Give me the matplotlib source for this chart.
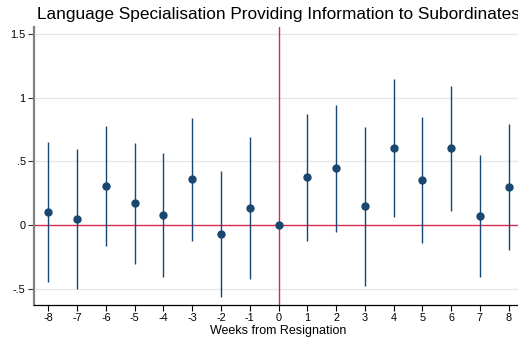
import matplotlib

matplotlib.use("Agg")
import matplotlib.pyplot as plt

# Event-study coefficients with 95% CIs, by week relative to resignation
weeks = [-8, -7, -6, -5, -4, -3, -2, -1, 0, 1, 2, 3, 4, 5, 6, 7, 8]
coef = [0.104, 0.052, 0.309, 0.173, 0.083, 0.361, -0.066, 0.136, 0.0,
        0.377, 0.449, 0.149, 0.609, 0.356, 0.604, 0.073, 0.298]
ci_lo = [-0.443, -0.498, -0.162, -0.301, -0.406, -0.123, -0.565, -0.421, 0.0,
         -0.121, -0.050, -0.476, 0.068, -0.137, 0.115, -0.408, -0.196]
ci_hi = [0.651, 0.600, 0.779, 0.644, 0.565, 0.840, 0.429, 0.693, 0.0,
         0.871, 0.942, 0.772, 1.146, 0.848, 1.093, 0.549, 0.793]

ytick_vals = [-0.5, 0, 0.5, 1, 1.5]
ytick_labels = ["-.5", "0", ".5", "1", "1.5"]

NAVY = "#1a476f"
RED = "#d42a55"

plt.rcParams["font.family"] = ["Liberation Sans", "DejaVu Sans"]

fig = plt.figure(figsize=(5.18, 3.41), dpi=100)
W, H = 518, 341
left, right, top, bottom = 34, 523, 26.5, 305
ax = fig.add_axes([left / W, (H - bottom) / H, (right - left) / W, (bottom - top) / H])

for y in [-0.5, 0.5, 1, 1.5]:
    ax.axhline(y, color="#e6e6e6", lw=0.9, zorder=0)
ax.axhline(0, color=RED, lw=1.0, zorder=1)
ax.axvline(0, color=RED, lw=1.0, zorder=1)

for w, lo, hi in zip(weeks, ci_lo, ci_hi):
    if w == 0:
        continue
    ax.plot([w, w], [lo, hi], color=NAVY, lw=1.0, zorder=2, solid_capstyle="butt")
ax.plot(weeks, coef, "o", color=NAVY, ms=5, zorder=3)

ax.set_xlim(-8.5, 8.5)
ax.set_ylim(-0.626, 1.559)
ax.set_xticks(weeks)
ax.set_xticklabels([str(w) for w in weeks], fontsize=7.8)
ax.set_yticks(ytick_vals)
ax.set_yticklabels(ytick_labels, fontsize=7.8)

for s in ["top", "right"]:
    ax.spines[s].set_visible(False)
ax.spines["left"].set_color("#808080")
ax.spines["left"].set_linewidth(1.6)
ax.spines["bottom"].set_color("black")
ax.spines["bottom"].set_linewidth(0.9)
ax.tick_params(axis="y", length=4, width=0.8, color="#333333", pad=2)
ax.tick_params(axis="x", length=4, width=0.8, color="black", pad=2)

ax.set_xlabel("Weeks from Resignation", fontsize=9, labelpad=1)

cx = (left + right) / 2 / W
fig.text(cx, 1 - 14 / H, "Language Specialisation Providing Information to Subordinates",
         ha="center", va="center", fontsize=12.4)

fig.savefig("out.png", dpi=100)
